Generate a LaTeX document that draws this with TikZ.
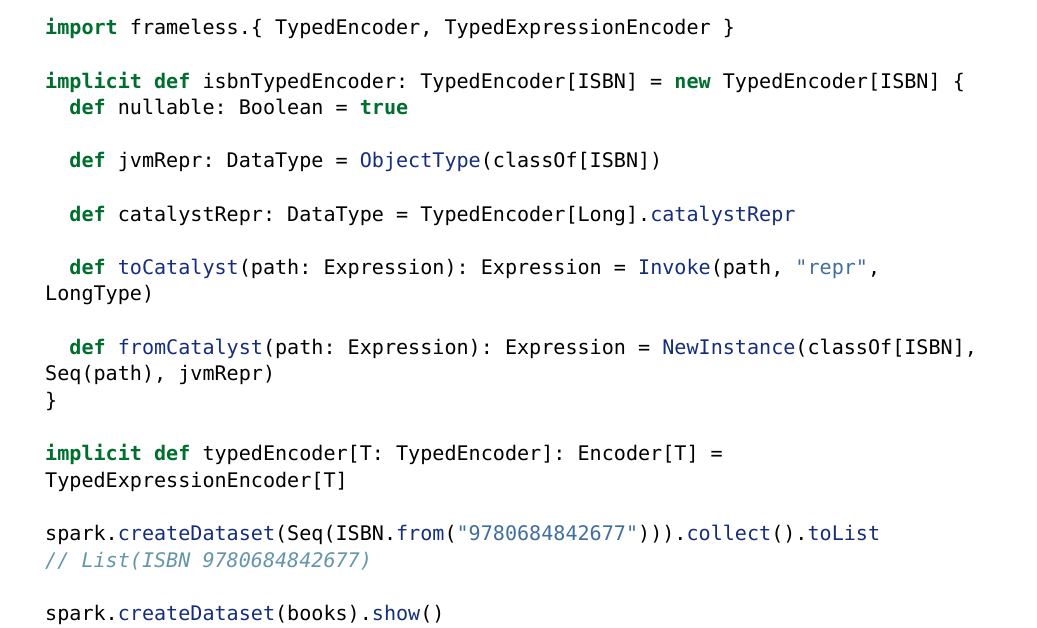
\documentclass[tikz,border=0pt]{standalone}
\usepackage{fontspec}
\newfontfamily\codefont{DejaVu Sans Mono}
\definecolor{kwgreen}{RGB}{0, 110, 45}
\definecolor{fnblue}{RGB}{20, 45, 125}
\definecolor{strblue}{RGB}{65, 110, 160}
\definecolor{cmtgray}{RGB}{100, 150, 170}
\newcommand{\kwd}[1]{\textcolor{kwgreen}{\bfseries #1}}
\newcommand{\mth}[1]{\textcolor{fnblue}{#1}}
\newcommand{\strg}[1]{\textcolor{strblue}{#1}}
\newcommand{\cmnt}[1]{\textcolor{cmtgray}{\itshape #1}}
\begin{document}
\frenchspacing
\begin{tikzpicture}[x=1pt, y=1pt,
  ln/.style={anchor=base west, inner sep=0pt, font=\codefont\fontsize{20.1}{26}\selectfont},
]
  \useasboundingbox (0, 0) rectangle (1037, -628);
  \node[ln] (l1) at (45, -35) {\kwd{import} frameless.\{ TypedEncoder, TypedExpressionEncoder \}};

  \node[ln] (l3) at (45, -88.2) {\kwd{implicit def} isbnTypedEncoder: TypedEncoder[ISBN] = \kwd{new} TypedEncoder[ISBN] \{};
  \node[ln] (l4) at (69.2, -114.8) {\kwd{def} nullable: Boolean = \kwd{true}};

  \node[ln] (l6) at (69.2, -168) {\kwd{def} jvmRepr: DataType = \mth{ObjectType}(classOf[ISBN])};

  \node[ln] (l8) at (69.2, -221.2) {\kwd{def} catalystRepr: DataType = TypedEncoder[Long].\mth{catalystRepr}};

  \node[ln] (l10) at (69.2, -274.4) {\kwd{def} \mth{toCatalyst}(path: Expression): Expression = \mth{Invoke}(path, \strg{"repr"},};
  \node[ln] (l11) at (45, -301) {LongType)};

  \node[ln] (l13) at (69.2, -354.2) {\kwd{def} \mth{fromCatalyst}(path: Expression): Expression = \mth{NewInstance}(classOf[ISBN],};
  \node[ln] (l14) at (45, -380.8) {Seq(path), jvmRepr)};
  \node[ln] (l15) at (45, -407.4) {\}};

  \node[ln] (l17) at (45, -460.6) {\kwd{implicit def} typedEncoder[T: TypedEncoder]: Encoder[T] =};
  \node[ln] (l18) at (45, -487.2) {TypedExpressionEncoder[T]};

  \node[ln] (l20) at (45, -540.4) {spark.\mth{createDataset}(Seq(ISBN.\mth{from}(\strg{"9780684842677"}))).\mth{collect}().\mth{toList}};
  \node[ln] (l21) at (45, -567) {\cmnt{// List(ISBN 9780684842677)}};

  \node[ln] (l23) at (45, -620.2) {spark.\mth{createDataset}(books).\mth{show}()};
\end{tikzpicture}
\end{document}
